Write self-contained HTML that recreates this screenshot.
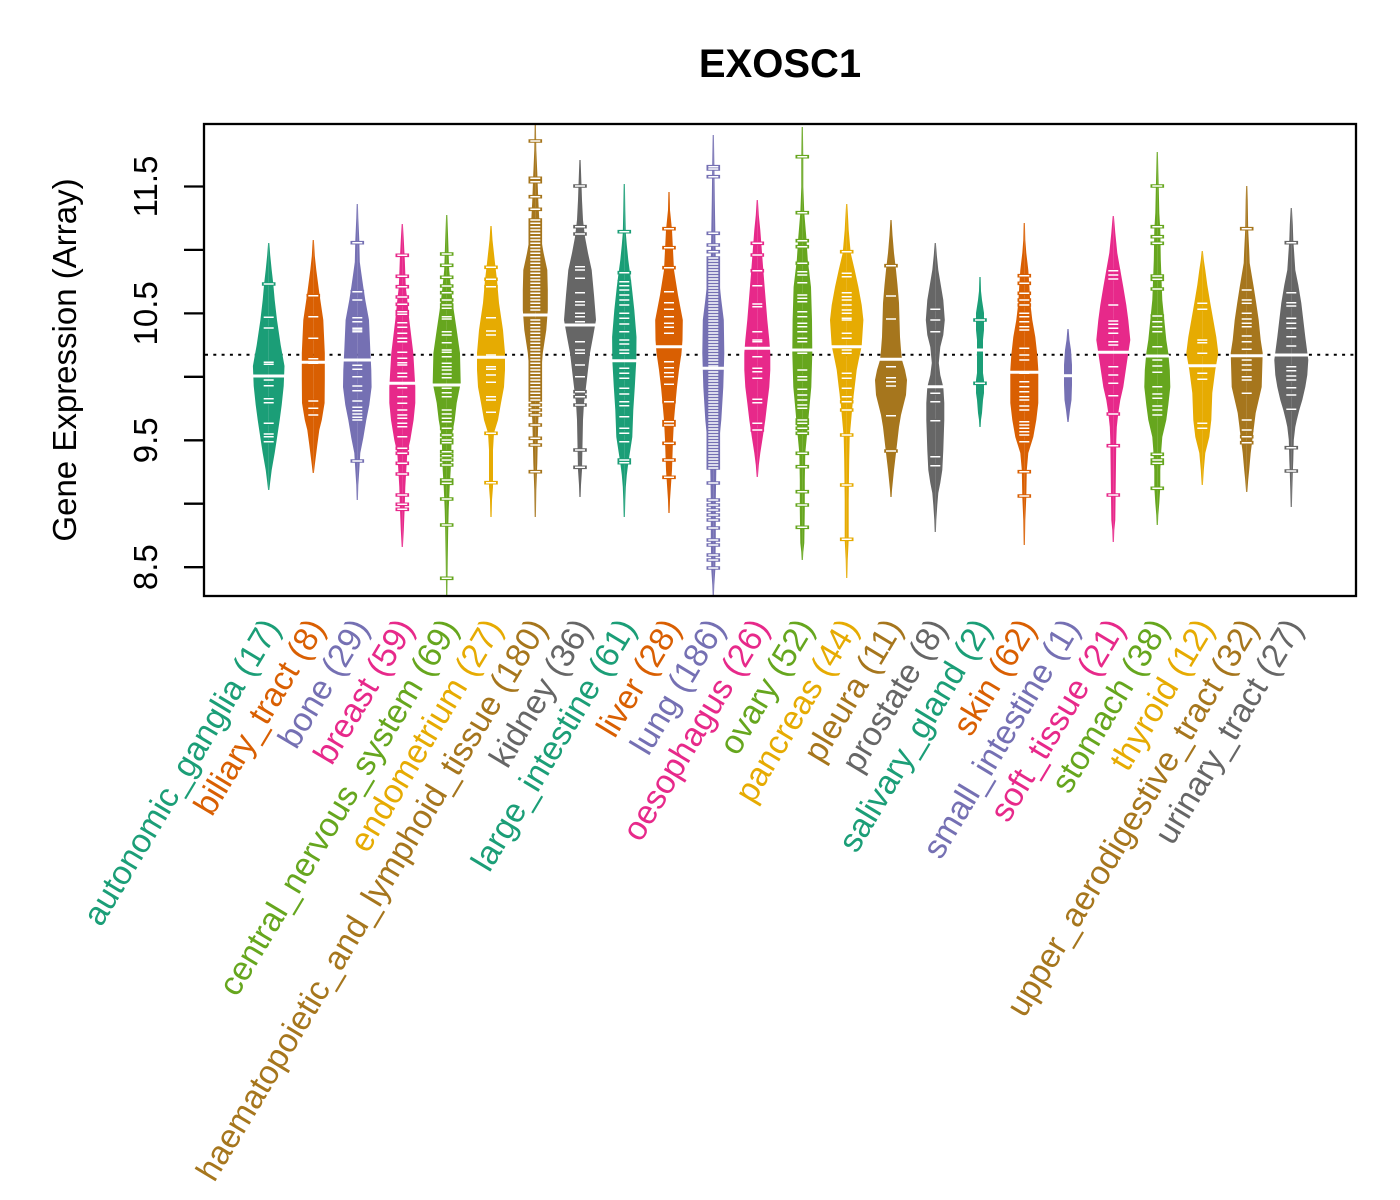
<!DOCTYPE html>
<html>
<head>
<meta charset="utf-8">
<style>
html,body{margin:0;padding:0;background:#fff;}
svg{display:block;}
text{font-family:"Liberation Sans",Arial,Helvetica,sans-serif;}
</style>
</head>
<body>
<svg width="1400" height="1200" viewBox="0 0 1400 1200" xmlns="http://www.w3.org/2000/svg">
<rect x="0" y="0" width="1400" height="1200" fill="#fff"/>
<defs>
<path id="h1" d="M0,243 L0.6,243 L1.5,255 L3,270 L4.5,283 L6,300 L8.3,320 L12,345 L15.8,366 L15,386 L13,405 L11,420 L8,440 L6,453 L3,470 L1.5,482 L0.6,490 L0,490 Z"/>
<path id="h2" d="M0,240 L0.6,240 L1.5,256 L3,270 L6,293 L10,320 L11.5,353 L11.5,380 L11.3,403 L8.5,420 L6,430 L4,445 L3,453 L1.5,465 L0.6,473 L0,473 Z"/>
<path id="h3" d="M0,204 L0.6,204 L1,218 L2,240 L2.5,262 L4,273 L6,287 L8,300 L11.7,320 L13,350 L14,370 L14.3,387 L12,405 L9,420 L6,438 L3,453 L2,470 L1,485 L0.6,500 L0,500 Z"/>
<path id="h4" d="M0,224 L0.6,224 L1.5,240 L2.5,260 L3.5,287 L5,300 L7,320 L11,353 L13,387 L13,403 L11.3,420 L8,440 L5,453 L4,470 L3,487 L2.5,505 L1.5,530 L0.6,547 L0,547 Z"/>
<path id="h5" d="M0,215 L0.6,215 L1.5,240 L2.5,270 L4,285 L6,303 L10,330 L13.3,353 L14,383 L10,403 L8,420 L5,437 L4,470 L3,487 L2,510 L1.5,530 L1,560 L0.6,596 L0,596 Z"/>
<path id="h6" d="M0,226 L0.6,226 L1.5,240 L4,263 L6,280 L8,303 L12,330 L14,353 L14,370 L13,387 L10,403 L7,420 L3,433 L2,450 L2,487 L1,500 L0.6,517 L0,517 Z"/>
<path id="h7" d="M0,124 L0.6,124 L1,150 L2,173 L3,200 L4,220 L6,240 L8.3,253 L12,270 L12.5,290 L12.5,310 L11,330 L7.5,353 L6,370 L5,387 L4,405 L3,420 L2.5,440 L2,463 L1,490 L0.6,517 L0,517 Z"/>
<path id="h8" d="M0,160 L0.6,160 L1.5,185 L2,200 L3,220 L5,237 L8,253 L11.7,270 L14,295 L16,320 L13,337 L10,353 L8,370 L6,387 L4,403 L3,420 L2.5,445 L2,470 L1,485 L0.6,497 L0,497 Z"/>
<path id="h9" d="M0,184 L0.6,184 L1,210 L1.5,233 L2.5,245 L4,260 L6,275 L7.5,287 L10,310 L12.2,337 L12,360 L10.5,387 L9,410 L8,437 L6,450 L4,463 L2.5,475 L1.5,487 L1,500 L0.6,517 L0,517 Z"/>
<path id="h10" d="M0,192 L0.6,192 L1,210 L3,230 L4,250 L5,270 L9,295 L13.8,320 L13.5,340 L12.5,353 L10,370 L8,387 L6.5,403 L5,420 L4,440 L3,470 L2,485 L1,500 L0.6,513 L0,513 Z"/>
<path id="h11" d="M0,135 L0.6,135 L1,160 L1.5,200 L2,230 L2.5,260 L5.5,277 L8,300 L10.5,320 L11,353 L10,387 L8,420 L6,440 L5,453 L3,470 L2.5,500 L2.5,540 L2,570 L1,585 L0.6,596 L0,596 Z"/>
<path id="h12" d="M0,200 L0.6,200 L1.5,215 L3,230 L4.5,250 L6,270 L8,295 L10,320 L12,340 L13,353 L13,370 L12,387 L10,403 L8,420 L5.5,437 L3,453 L1.5,465 L0.6,477 L0,477 Z"/>
<path id="h13" d="M0,127 L0.6,127 L1,160 L1,187 L1.5,200 L2,213 L4,237 L5.5,260 L8.7,287 L9.7,320 L10,353 L9,387 L7.5,403 L6,420 L4.5,437 L3,453 L2.5,480 L2.5,510 L2,543 L1,552 L0.6,560 L0,560 Z"/>
<path id="h14" d="M0,204 L0.6,204 L1.5,220 L2,230 L4,253 L8,270 L11.7,287 L15,305 L16.7,320 L15,346 L12,360 L10,370 L8,387 L6,403 L4.5,420 L3,437 L2.5,460 L2,500 L2,540 L1,560 L0.6,578 L0,578 Z"/>
<path id="h15" d="M0,220 L0.6,220 L1.5,235 L3,253 L5,270 L6.5,285 L8,303 L9,337 L10,350 L11,360 L14,370 L16,380 L15,395 L13,403 L10,415 L8,427 L6.5,440 L5,453 L3,470 L2,480 L1,490 L0.6,497 L0,497 Z"/>
<path id="h16" d="M0,243 L0.6,243 L1.5,255 L3,270 L5.5,285 L8,300 L9.5,320 L8,335 L5,347 L3.5,363 L5,375 L8,387 L9,403 L9,420 L8,450 L7,470 L5,483 L3,493 L2,505 L1,520 L0.6,532 L0,532 Z"/>
<path id="h17" d="M0,277 L0.6,277 L1,291 L2,300 L4,313 L4,330 L3,340 L3,373 L4,380 L4,393 L3,400 L2,413 L1,420 L0.6,427 L0,427 Z"/>
<path id="h18" d="M0,223 L0.6,223 L1,240 L2,253 L4,270 L5,285 L6,303 L8,320 L11,337 L13,355 L14,370 L14,403 L12,420 L9,437 L4,453 L2.5,470 L2,497 L1,520 L0.6,545 L0,545 Z"/>
<path id="h19" d="M0,329 L0.6,329 L1.5,340 L3,350 L4,365 L4,385 L3.5,400 L2,410 L0.6,422 L0,422 Z"/>
<path id="h20" d="M0,216 L0.6,216 L2,233 L4,253 L7,270 L10,287 L13,305 L15,320 L17,340 L15,353 L12.5,370 L10,387 L7,400 L5,413 L3.5,427 L3,440 L2.5,480 L2,520 L1,530 L0.6,542 L0,542 Z"/>
<path id="h21" d="M0,152 L0.6,152 L1,170 L1.5,190 L2,213 L3,230 L3.5,260 L4.5,287 L5,300 L7,320 L9,340 L11,353 L12.5,370 L13,387 L11,405 L9,420 L5,437 L4,450 L3,470 L3,487 L2,503 L1,515 L0.6,525 L0,525 Z"/>
<path id="h22" d="M0,251 L0.6,251 L1.5,260 L3,270 L5,285 L8,303 L11,320 L14,337 L16,353 L13,370 L10,393 L9,420 L7,437 L3,453 L1.5,470 L0.6,485 L0,485 Z"/>
<path id="h23" d="M0,186 L0.6,186 L1,200 L1.5,230 L2.5,250 L3,263 L5,275 L7,287 L9.5,303 L12,320 L14,340 L16,353 L15,387 L12,400 L9,413 L6,437 L4,453 L2.5,470 L1.5,480 L0.6,492 L0,492 Z"/>
<path id="h24" d="M0,208 L0.6,208 L1.5,225 L2,240 L3,255 L4,270 L7,285 L10,303 L12,320 L14,337 L17,360 L16,375 L14,387 L11,400 L8,410 L5.5,420 L4,427 L2.5,440 L2,460 L1.5,473 L1,490 L0.6,507 L0,507 Z"/>

<path id="l1" d="M-5 284h10M-5 317.3h10M-5 328h10M-5 362.3h10M-5 364.3h10M-5 380h10M-5 385.7h10M-5 398.7h10M-5 402.7h10M-5 423.3h10M-5 434h10M-5 436.7h10M-5 441.7h10"/>
<path id="l2" d="M-5 295.7h10M-5 316.7h10M-5 338.3h10M-5 358.7h10M-5 363.3h10M-5 401h10M-5 408.3h10M-5 415h10"/>
<path id="l3" d="M-5 242.7h10M-5 291.7h10M-5 300h10M-5 317.7h10M-5 321.7h10M-5 328.3h10M-5 330h10M-5 331.7h10M-5 365.3h10M-5 369.3h10M-5 376.7h10M-5 386h10M-5 390.7h10M-5 401h10M-5 407.3h10M-5 410.7h10M-5 414h10M-5 417.3h10M-5 420h10M-5 461h10"/>
<path id="l4" d="M-5 255.3h10M-5 276.3h10M-5 286.7h10M-5 297h10M-5 304.3h10M-5 311.7h10M-5 314.3h10M-5 322.7h10M-5 327.3h10M-5 333.3h10M-5 338.3h10M-5 341.7h10M-5 352.3h10M-5 358.3h10M-5 362.7h10M-5 365h10M-5 373.3h10M-5 376.7h10M-5 387.7h10M-5 396.7h10M-5 403.3h10M-5 410h10M-5 415h10M-5 418.3h10M-5 423.3h10M-5 426.7h10M-5 436.7h10M-5 448.3h10M-5 453.3h10M-5 463.3h10M-5 474h10M-5 495h10M-5 504.3h10M-5 509.3h10"/>
<path id="l5" d="M-5 254h10M-5 265.3h10M-5 277.3h10M-5 286h10M-5 292.7h10M-5 300h10M-5 305h10M-5 308.3h10M-5 316.7h10M-5 319h10M-5 331.7h10M-5 335h10M-5 342.7h10M-5 350h10M-5 352.3h10M-5 356.7h10M-5 363.3h10M-5 366.7h10M-5 370h10M-5 374h10M-5 377.7h10M-5 388.3h10M-5 392.7h10M-5 396.7h10M-5 410h10M-5 414h10M-5 418.3h10M-5 421.7h10M-5 428.3h10M-5 435h10M-5 440h10M-5 442.7h10M-5 451.7h10M-5 455.7h10M-5 460h10M-5 465h10M-5 480h10M-5 483.3h10M-5 499h10M-5 525h10M-5 578.3h10"/>
<path id="l6" d="M-5 267.3h10M-5 279.3h10M-5 286.7h10M-5 317.7h10M-5 331h10M-5 335h10M-5 355h10M-5 366.7h10M-5 369.3h10M-5 375h10M-5 382.3h10M-5 396.7h10M-5 400h10M-5 412.3h10M-5 433.3h10M-5 482.7h10"/>
<path id="l7" d="M-5 141h10M-5 178.3h10M-5 181.7h10M-5 196.7h10M-5 209.3h10M-5 220h10M-5 223.3h10M-5 226.7h10M-5 230h10M-5 233.3h10M-5 236.7h10M-5 240h10M-5 243.3h10M-5 246.7h10M-5 250h10M-5 253.3h10M-5 256.7h10M-5 260h10M-5 263.3h10M-5 266.7h10M-5 270h10M-5 273.3h10M-5 276.7h10M-5 280h10M-5 283.3h10M-5 286.7h10M-5 290h10M-5 293.3h10M-5 296.7h10M-5 300h10M-5 303.3h10M-5 306.7h10M-5 310h10M-5 320h10M-5 323.3h10M-5 326.7h10M-5 330h10M-5 333.3h10M-5 336.7h10M-5 340h10M-5 343.3h10M-5 346.7h10M-5 350h10M-5 353.3h10M-5 356.7h10M-5 360h10M-5 363.3h10M-5 366.7h10M-5 370h10M-5 373.3h10M-5 376.7h10M-5 380h10M-5 383.3h10M-5 386.7h10M-5 390h10M-5 393.3h10M-5 396.7h10M-5 400h10M-5 405h10M-5 410h10M-5 415h10M-5 425h10M-5 438.3h10M-5 445h10M-5 471.7h10"/>
<path id="l8" d="M-5 186h10M-5 226.7h10M-5 234h10M-5 266.7h10M-5 270h10M-5 278.3h10M-5 292.7h10M-5 301.7h10M-5 305h10M-5 313.3h10M-5 316.7h10M-5 321.7h10M-5 341.7h10M-5 350h10M-5 353.3h10M-5 365h10M-5 376.7h10M-5 391.7h10M-5 396.7h10M-5 405h10M-5 450h10M-5 467.3h10"/>
<path id="l9" d="M-5 231.7h10M-5 272.7h10M-5 281.7h10M-5 285.7h10M-5 290h10M-5 295h10M-5 300h10M-5 305h10M-5 313.3h10M-5 318.3h10M-5 324h10M-5 331.7h10M-5 340h10M-5 344h10M-5 350h10M-5 353.3h10M-5 368.3h10M-5 373.3h10M-5 378.3h10M-5 388.3h10M-5 394h10M-5 401.7h10M-5 405.7h10M-5 416.7h10M-5 428.3h10M-5 433.3h10M-5 441.7h10M-5 460h10M-5 462.7h10"/>
<path id="l10" d="M-5 228.7h10M-5 247.7h10M-5 267.7h10M-5 291.7h10M-5 302.7h10M-5 309.3h10M-5 316.7h10M-5 323.3h10M-5 327.3h10M-5 333.3h10M-5 361.7h10M-5 367.7h10M-5 372.7h10M-5 376.7h10M-5 384.3h10M-5 401.7h10M-5 421.7h10M-5 425h10M-5 443.3h10M-5 460h10M-5 477.3h10"/>
<path id="l11" d="M-5 166.7h10M-5 169h10M-5 176.7h10M-5 233.3h10M-5 245h10M-5 251.7h10M-5 258h10M-5 261h10M-5 264h10M-5 267h10M-5 270h10M-5 273h10M-5 276h10M-5 279h10M-5 282h10M-5 285h10M-5 288h10M-5 291h10M-5 294h10M-5 297h10M-5 300h10M-5 303h10M-5 306h10M-5 309h10M-5 312h10M-5 315h10M-5 318h10M-5 321h10M-5 324h10M-5 327h10M-5 330h10M-5 333h10M-5 336h10M-5 339h10M-5 342h10M-5 345h10M-5 348h10M-5 351h10M-5 354h10M-5 357h10M-5 360h10M-5 363h10M-5 366h10M-5 369h10M-5 372h10M-5 375h10M-5 378h10M-5 381h10M-5 384h10M-5 387h10M-5 390h10M-5 393h10M-5 396h10M-5 399h10M-5 402h10M-5 405h10M-5 408h10M-5 411h10M-5 414h10M-5 417h10M-5 420h10M-5 423h10M-5 426h10M-5 429h10M-5 432h10M-5 435h10M-5 438h10M-5 441h10M-5 444h10M-5 447h10M-5 450h10M-5 453h10M-5 456h10M-5 459h10M-5 462h10M-5 465h10M-5 468h10M-5 483h10M-5 500h10M-5 505h10M-5 510h10M-5 515h10M-5 520h10M-5 528h10M-5 540h10M-5 545h10M-5 555h10M-5 560h10M-5 568h10"/>
<path id="l12" d="M-5 243.3h10M-5 255h10M-5 270.7h10M-5 285.7h10M-5 304h10M-5 306.7h10M-5 331.7h10M-5 340h10M-5 341.7h10M-5 356.7h10M-5 368.3h10M-5 371.7h10M-5 378.3h10M-5 399.3h10M-5 402.7h10M-5 423.3h10M-5 430h10"/>
<path id="l13" d="M-5 156.7h10M-5 212.7h10M-5 240.7h10M-5 246.7h10M-5 263.3h10M-5 271.7h10M-5 275h10M-5 282.7h10M-5 295h10M-5 298.3h10M-5 301.7h10M-5 311.7h10M-5 316.7h10M-5 323.3h10M-5 326.7h10M-5 331.7h10M-5 338.3h10M-5 341.7h10M-5 353.3h10M-5 370h10M-5 376.7h10M-5 380h10M-5 389.3h10M-5 395h10M-5 400h10M-5 405h10M-5 408.3h10M-5 420h10M-5 423.3h10M-5 428.3h10M-5 433.3h10M-5 453.3h10M-5 466.7h10M-5 491.7h10M-5 505h10M-5 527.3h10"/>
<path id="l14" d="M-5 251.7h10M-5 273.3h10M-5 276.7h10M-5 292.7h10M-5 296.7h10M-5 300h10M-5 305h10M-5 310h10M-5 313.3h10M-5 318.3h10M-5 320h10M-5 333.3h10M-5 338.3h10M-5 350h10M-5 353.3h10M-5 373.3h10M-5 378.3h10M-5 388.3h10M-5 396.7h10M-5 401.7h10M-5 410h10M-5 435h10M-5 485h10M-5 539.3h10"/>
<path id="l15" d="M-5 265.7h10M-5 296h10M-5 319h10M-5 366.7h10M-5 377.7h10M-5 381.7h10M-5 386h10M-5 415.7h10M-5 451h10"/>
<path id="l16" d="M-5 309.3h10M-5 320h10M-5 331.7h10M-5 393.3h10M-5 401.7h10M-5 420.7h10M-5 456.7h10M-5 465.7h10"/>
<path id="l17" d="M-5 320h10M-5 383.3h10"/>
<path id="l18" d="M-5 275.7h10M-5 283.3h10M-5 293.3h10M-5 300h10M-5 305h10M-5 313.3h10M-5 316.7h10M-5 321.7h10M-5 326.7h10M-5 330h10M-5 348.3h10M-5 355h10M-5 360h10M-5 373.3h10M-5 381.7h10M-5 386.7h10M-5 391.7h10M-5 396.7h10M-5 400h10M-5 406h10M-5 410h10M-5 421.7h10M-5 425h10M-5 428.3h10M-5 431.7h10M-5 435h10M-5 441.7h10M-5 471.7h10M-5 496h10"/>
<path id="l20" d="M-5 270.7h10M-5 275h10M-5 279h10M-5 305h10M-5 321h10M-5 324.3h10M-5 328.3h10M-5 333.3h10M-5 341.7h10M-5 345h10M-5 366.7h10M-5 375h10M-5 383.3h10M-5 395.7h10M-5 414h10M-5 445.7h10M-5 495h10"/>
<path id="l21" d="M-5 186h10M-5 226.7h10M-5 236.7h10M-5 243.3h10M-5 276h10M-5 279.3h10M-5 289h10M-5 316h10M-5 321.7h10M-5 326.7h10M-5 331.7h10M-5 346.7h10M-5 360h10M-5 366h10M-5 372.3h10M-5 386.7h10M-5 394h10M-5 398.3h10M-5 406h10M-5 410h10M-5 415h10M-5 454.3h10M-5 460h10M-5 463.3h10M-5 488.3h10"/>
<path id="l22" d="M-5 303.3h10M-5 309.3h10M-5 340h10M-5 342.7h10M-5 353.3h10M-5 373.3h10M-5 379.3h10M-5 423.3h10M-5 428.3h10"/>
<path id="l23" d="M-5 228.7h10M-5 290h10M-5 300h10M-5 303.3h10M-5 313.3h10M-5 319h10M-5 323.3h10M-5 326.7h10M-5 336h10M-5 341.7h10M-5 349.3h10M-5 360h10M-5 365h10M-5 370h10M-5 376.7h10M-5 380h10M-5 393.3h10M-5 420h10M-5 430h10M-5 436.7h10M-5 442.7h10"/>
<path id="l24" d="M-5 242.7h10M-5 292.7h10M-5 302.7h10M-5 306h10M-5 318.3h10M-5 323.3h10M-5 328.3h10M-5 336.7h10M-5 346h10M-5 366.7h10M-5 370.7h10M-5 376h10M-5 380h10M-5 387.7h10M-5 395h10M-5 409.3h10M-5 447.7h10M-5 471h10"/>
</defs>

<text x="780" y="77" font-size="40" font-weight="bold" text-anchor="middle" fill="#000">EXOSC1</text>

<line x1="205" y1="354.7" x2="1355" y2="354.7" stroke="#000" stroke-width="2" stroke-dasharray="3 5.3"/>

<g fill="none">
<g transform="translate(268.7,0)"><g fill="#1B9E77"><use href="#h1"/><use href="#h1" transform="scale(-1,1)"/></g><use href="#l1" stroke="#1B9E77" stroke-width="3.6" stroke-linecap="square"/><use href="#l1" stroke="#fff" stroke-width="1.5"/><path d="M-16 376h32" stroke="#fff" stroke-width="3"/></g>
<g transform="translate(313.3,0)"><g fill="#D95F02"><use href="#h2"/><use href="#h2" transform="scale(-1,1)"/></g><use href="#l2" stroke="#D95F02" stroke-width="3.6" stroke-linecap="square"/><use href="#l2" stroke="#fff" stroke-width="1.5"/><path d="M-12.5 362.3h25" stroke="#fff" stroke-width="3"/></g>
<g transform="translate(357.3,0)"><g fill="#7570B3"><use href="#h3"/><use href="#h3" transform="scale(-1,1)"/></g><use href="#l3" stroke="#7570B3" stroke-width="3.6" stroke-linecap="square"/><use href="#l3" stroke="#fff" stroke-width="1.5"/><path d="M-14 360h28" stroke="#fff" stroke-width="3"/></g>
<g transform="translate(402.3,0)"><g fill="#E7298A"><use href="#h4"/><use href="#h4" transform="scale(-1,1)"/></g><use href="#l4" stroke="#E7298A" stroke-width="3.6" stroke-linecap="square"/><use href="#l4" stroke="#fff" stroke-width="1.5"/><path d="M-14 383.3h28" stroke="#fff" stroke-width="3"/></g>
<g transform="translate(446.7,0)"><g fill="#66A61E"><use href="#h5"/><use href="#h5" transform="scale(-1,1)"/></g><use href="#l5" stroke="#66A61E" stroke-width="3.6" stroke-linecap="square"/><use href="#l5" stroke="#fff" stroke-width="1.5"/><path d="M-14.5 385h29" stroke="#fff" stroke-width="3"/></g>
<g transform="translate(491,0)"><g fill="#E6AB02"><use href="#h6"/><use href="#h6" transform="scale(-1,1)"/></g><use href="#l6" stroke="#E6AB02" stroke-width="3.6" stroke-linecap="square"/><use href="#l6" stroke="#fff" stroke-width="1.5"/><path d="M-15 357.3h30" stroke="#fff" stroke-width="3"/></g>
<g transform="translate(535.3,0)"><g fill="#A6761D"><use href="#h7"/><use href="#h7" transform="scale(-1,1)"/></g><use href="#l7" stroke="#A6761D" stroke-width="3.6" stroke-linecap="square"/><use href="#l7" stroke="#fff" stroke-width="1.5"/><path d="M-13.5 315h27" stroke="#fff" stroke-width="3"/></g>
<g transform="translate(580,0)"><g fill="#666666"><use href="#h8"/><use href="#h8" transform="scale(-1,1)"/></g><use href="#l8" stroke="#666666" stroke-width="3.6" stroke-linecap="square"/><use href="#l8" stroke="#fff" stroke-width="1.5"/><path d="M-16 325h32" stroke="#fff" stroke-width="3"/></g>
<g transform="translate(624.3,0)"><g fill="#1B9E77"><use href="#h9"/><use href="#h9" transform="scale(-1,1)"/></g><use href="#l9" stroke="#1B9E77" stroke-width="3.6" stroke-linecap="square"/><use href="#l9" stroke="#fff" stroke-width="1.5"/><path d="M-13 360.7h26" stroke="#fff" stroke-width="3"/></g>
<g transform="translate(669,0)"><g fill="#D95F02"><use href="#h10"/><use href="#h10" transform="scale(-1,1)"/></g><use href="#l10" stroke="#D95F02" stroke-width="3.6" stroke-linecap="square"/><use href="#l10" stroke="#fff" stroke-width="1.5"/><path d="M-13.5 346.7h27" stroke="#fff" stroke-width="3"/></g>
<g transform="translate(713.3,0)"><g fill="#7570B3"><use href="#h11"/><use href="#h11" transform="scale(-1,1)"/></g><use href="#l11" stroke="#7570B3" stroke-width="3.6" stroke-linecap="square"/><use href="#l11" stroke="#fff" stroke-width="1.5"/><path d="M-12 368.3h24" stroke="#fff" stroke-width="3"/></g>
<g transform="translate(757.3,0)"><g fill="#E7298A"><use href="#h12"/><use href="#h12" transform="scale(-1,1)"/></g><use href="#l12" stroke="#E7298A" stroke-width="3.6" stroke-linecap="square"/><use href="#l12" stroke="#fff" stroke-width="1.5"/><path d="M-13.5 348.3h27" stroke="#fff" stroke-width="3"/></g>
<g transform="translate(802.3,0)"><g fill="#66A61E"><use href="#h13"/><use href="#h13" transform="scale(-1,1)"/></g><use href="#l13" stroke="#66A61E" stroke-width="3.6" stroke-linecap="square"/><use href="#l13" stroke="#fff" stroke-width="1.5"/><path d="M-10.5 350h21" stroke="#fff" stroke-width="3"/></g>
<g transform="translate(846.7,0)"><g fill="#E6AB02"><use href="#h14"/><use href="#h14" transform="scale(-1,1)"/></g><use href="#l14" stroke="#E6AB02" stroke-width="3.6" stroke-linecap="square"/><use href="#l14" stroke="#fff" stroke-width="1.5"/><path d="M-15.5 346.7h31" stroke="#fff" stroke-width="3"/></g>
<g transform="translate(891,0)"><g fill="#A6761D"><use href="#h15"/><use href="#h15" transform="scale(-1,1)"/></g><use href="#l15" stroke="#A6761D" stroke-width="3.6" stroke-linecap="square"/><use href="#l15" stroke="#fff" stroke-width="1.5"/><path d="M-12 359.3h24" stroke="#fff" stroke-width="3"/></g>
<g transform="translate(935.3,0)"><g fill="#666666"><use href="#h16"/><use href="#h16" transform="scale(-1,1)"/></g><use href="#l16" stroke="#666666" stroke-width="3.6" stroke-linecap="square"/><use href="#l16" stroke="#fff" stroke-width="1.5"/><path d="M-9 386.7h18" stroke="#fff" stroke-width="3"/></g>
<g transform="translate(980,0)"><g fill="#1B9E77"><use href="#h17"/><use href="#h17" transform="scale(-1,1)"/></g><use href="#l17" stroke="#1B9E77" stroke-width="3.6" stroke-linecap="square"/><use href="#l17" stroke="#fff" stroke-width="1.5"/><path d="M-4.5 350h9" stroke="#fff" stroke-width="3"/></g>
<g transform="translate(1024.3,0)"><g fill="#D95F02"><use href="#h18"/><use href="#h18" transform="scale(-1,1)"/></g><use href="#l18" stroke="#D95F02" stroke-width="3.6" stroke-linecap="square"/><use href="#l18" stroke="#fff" stroke-width="1.5"/><path d="M-14.5 372.3h29" stroke="#fff" stroke-width="3"/></g>
<g transform="translate(1068,0)"><g fill="#7570B3"><use href="#h19"/><use href="#h19" transform="scale(-1,1)"/></g><path d="M-4.5 375.7h9" stroke="#fff" stroke-width="3"/></g>
<g transform="translate(1113.3,0)"><g fill="#E7298A"><use href="#h20"/><use href="#h20" transform="scale(-1,1)"/></g><use href="#l20" stroke="#E7298A" stroke-width="3.6" stroke-linecap="square"/><use href="#l20" stroke="#fff" stroke-width="1.5"/><path d="M-16 352.3h32" stroke="#fff" stroke-width="3"/></g>
<g transform="translate(1157.3,0)"><g fill="#66A61E"><use href="#h21"/><use href="#h21" transform="scale(-1,1)"/></g><use href="#l21" stroke="#66A61E" stroke-width="3.6" stroke-linecap="square"/><use href="#l21" stroke="#fff" stroke-width="1.5"/><path d="M-12 356h24" stroke="#fff" stroke-width="3"/></g>
<g transform="translate(1202.3,0)"><g fill="#E6AB02"><use href="#h22"/><use href="#h22" transform="scale(-1,1)"/></g><use href="#l22" stroke="#E6AB02" stroke-width="3.6" stroke-linecap="square"/><use href="#l22" stroke="#fff" stroke-width="1.5"/><path d="M-15 365.7h30" stroke="#fff" stroke-width="3"/></g>
<g transform="translate(1246.7,0)"><g fill="#A6761D"><use href="#h23"/><use href="#h23" transform="scale(-1,1)"/></g><use href="#l23" stroke="#A6761D" stroke-width="3.6" stroke-linecap="square"/><use href="#l23" stroke="#fff" stroke-width="1.5"/><path d="M-16.5 355.7h33" stroke="#fff" stroke-width="3"/></g>
<g transform="translate(1291.3,0)"><g fill="#666666"><use href="#h24"/><use href="#h24" transform="scale(-1,1)"/></g><use href="#l24" stroke="#666666" stroke-width="3.6" stroke-linecap="square"/><use href="#l24" stroke="#fff" stroke-width="1.5"/><path d="M-17 355h34" stroke="#fff" stroke-width="3"/></g>
</g>

<rect x="204" y="124" width="1152" height="472" fill="none" stroke="#000" stroke-width="2.3"/>

<g stroke="#000" stroke-width="2.3">
<line x1="184" y1="567.2" x2="204" y2="567.2"/>
<line x1="184" y1="503.7" x2="204" y2="503.7"/>
<line x1="184" y1="440.3" x2="204" y2="440.3"/>
<line x1="184" y1="376.8" x2="204" y2="376.8"/>
<line x1="184" y1="313.4" x2="204" y2="313.4"/>
<line x1="184" y1="249.9" x2="204" y2="249.9"/>
<line x1="184" y1="186.5" x2="204" y2="186.5"/>
</g>
<g font-size="33" fill="#000" text-anchor="middle">
<text transform="translate(157,567.2) rotate(-90)">8.5</text>
<text transform="translate(157,440.3) rotate(-90)">9.5</text>
<text transform="translate(157,313.4) rotate(-90)">10.5</text>
<text transform="translate(157,186.5) rotate(-90)">11.5</text>
</g>
<text transform="translate(76,360) rotate(-90)" font-size="33" text-anchor="middle" fill="#000">Gene Expression (Array)</text>

<g font-size="33.5" text-anchor="end">
<text transform="translate(281.4,627.7) rotate(-59)" fill="#1B9E77">autonomic_ganglia (17)</text>
<text transform="translate(326,627.7) rotate(-59)" fill="#D95F02">biliary_tract (8)</text>
<text transform="translate(370,627.7) rotate(-59)" fill="#7570B3">bone (29)</text>
<text transform="translate(415,627.7) rotate(-59)" fill="#E7298A">breast (59)</text>
<text transform="translate(459.4,627.7) rotate(-59)" fill="#66A61E">central_nervous_system (69)</text>
<text transform="translate(503.7,627.7) rotate(-59)" fill="#E6AB02">endometrium (27)</text>
<text transform="translate(548,627.7) rotate(-59)" fill="#A6761D">haematopoietic_and_lymphoid_tissue (180)</text>
<text transform="translate(592.7,627.7) rotate(-59)" fill="#666666">kidney (36)</text>
<text transform="translate(637,627.7) rotate(-59)" fill="#1B9E77">large_intestine (61)</text>
<text transform="translate(681.7,627.7) rotate(-59)" fill="#D95F02">liver (28)</text>
<text transform="translate(726,627.7) rotate(-59)" fill="#7570B3">lung (186)</text>
<text transform="translate(770,627.7) rotate(-59)" fill="#E7298A">oesophagus (26)</text>
<text transform="translate(815,627.7) rotate(-59)" fill="#66A61E">ovary (52)</text>
<text transform="translate(859.4,627.7) rotate(-59)" fill="#E6AB02">pancreas (44)</text>
<text transform="translate(903.7,627.7) rotate(-59)" fill="#A6761D">pleura (11)</text>
<text transform="translate(948,627.7) rotate(-59)" fill="#666666">prostate (8)</text>
<text transform="translate(992.7,627.7) rotate(-59)" fill="#1B9E77">salivary_gland (2)</text>
<text transform="translate(1037,627.7) rotate(-59)" fill="#D95F02">skin (62)</text>
<text transform="translate(1080.7,627.7) rotate(-59)" fill="#7570B3">small_intestine (1)</text>
<text transform="translate(1126,627.7) rotate(-59)" fill="#E7298A">soft_tissue (21)</text>
<text transform="translate(1170,627.7) rotate(-59)" fill="#66A61E">stomach (38)</text>
<text transform="translate(1215,627.7) rotate(-59)" fill="#E6AB02">thyroid (12)</text>
<text transform="translate(1259.4,627.7) rotate(-59)" fill="#A6761D">upper_aerodigestive_tract (32)</text>
<text transform="translate(1304,627.7) rotate(-59)" fill="#666666">urinary_tract (27)</text>
</g>
</svg>
</body>
</html>
